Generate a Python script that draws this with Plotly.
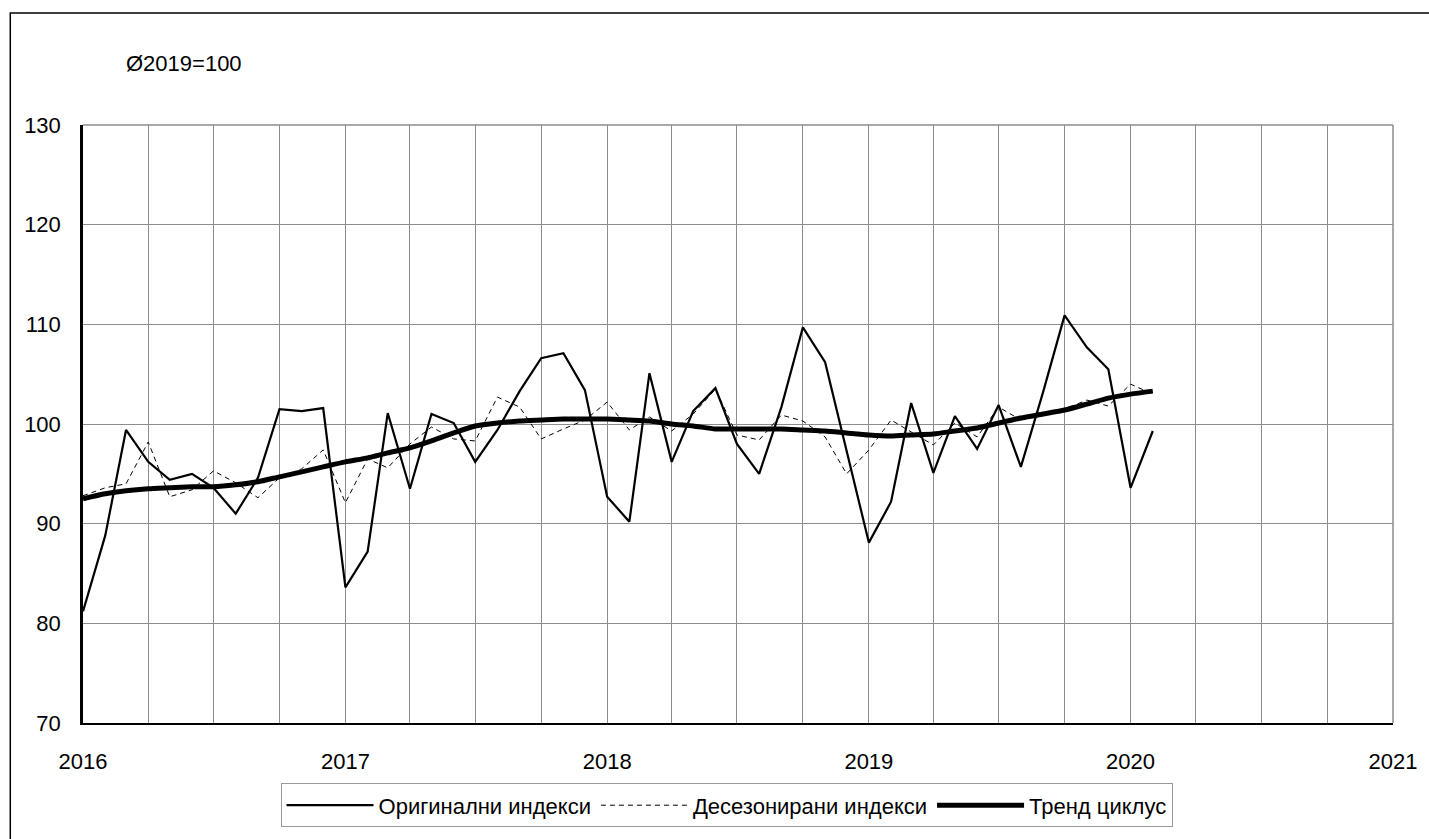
import pandas as pd
import plotly.graph_objects as go

months = pd.date_range("2016-01-01", periods=50, freq="MS")

original = [81.2, 88.8, 99.4, 96.2, 94.4, 95.0, 93.6, 91.0, 94.6, 101.5, 101.3, 101.6,
            83.6, 87.2, 101.1, 93.5, 101.0, 100.1, 96.2, 99.4, 103.3, 106.6, 107.1, 103.4,
            92.7, 90.2, 105.1, 96.2, 101.3, 103.6, 98.0, 95.0, 101.7, 109.7, 106.2, 97.4,
            88.1, 92.2, 102.1, 95.1, 100.8, 97.5, 101.9, 95.7, 103.2, 110.9, 107.7, 105.5,
            93.6, 99.3]

seasonal_adj = [92.8, 93.6, 94.0, 98.2, 92.7, 93.4, 95.3, 94.1, 92.6, 94.6, 95.5, 97.4,
                92.1, 96.5, 95.6, 98.0, 99.7, 98.5, 98.3, 102.7, 101.7, 98.5, 99.5, 100.4,
                102.2, 99.4, 100.7, 99.3, 101.0, 103.5, 98.9, 98.4, 100.9, 100.3, 98.7, 95.0,
                97.4, 100.4, 99.2, 97.9, 100.1, 98.7, 101.7, 100.4, 101.0, 101.5, 102.4, 101.8,
                104.0, 103.0]

trend = [92.5, 93.0, 93.3, 93.5, 93.6, 93.7, 93.7, 93.9, 94.2, 94.7, 95.2, 95.7,
         96.2, 96.6, 97.1, 97.6, 98.3, 99.1, 99.8, 100.1, 100.3, 100.4, 100.5, 100.5,
         100.5, 100.4, 100.3, 100.0, 99.8, 99.5, 99.5, 99.5, 99.5, 99.4, 99.3, 99.1,
         98.9, 98.8, 98.9, 99.0, 99.3, 99.6, 100.1, 100.6, 101.0, 101.4, 102.0, 102.6,
         103.0, 103.3]

names = ["Оригинални индекси", "Десезонирани индекси", "Тренд циклус"]
y_ticks = [70, 80, 90, 100, 110, 120, 130]

FONT = "Liberation Sans, Arial, sans-serif"
GRID = "#8c8c8c"

fig = go.Figure()
fig.add_trace(go.Scatter(x=months, y=original, name=names[0], mode="lines",
                         line=dict(color="black", width=2.2)))
fig.add_trace(go.Scatter(x=months, y=seasonal_adj, name=names[1], mode="lines",
                         line=dict(color="black", width=1, dash="5px,4px")))
fig.add_trace(go.Scatter(x=months, y=trend, name=names[2], mode="lines",
                         line=dict(color="black", width=5, shape="spline", smoothing=0.6)))

W, H = 1429, 839
L, R, T, B = 83, 1398, 125, 729
pw, ph = R - L, B - T

def px(x):
    return (x - L) / pw

def py(y):
    return (B - y) / ph

fig.update_layout(
    width=W, height=H,
    margin=dict(l=L, r=W - R, t=T, b=H - B, pad=0),
    paper_bgcolor="white", plot_bgcolor="white",
    font=dict(family=FONT, size=22, color="black"),
    showlegend=True,
    legend=dict(orientation="h", x=px(729), xanchor="center", y=py(790), yanchor="top",
                bordercolor="#999999", borderwidth=1, bgcolor="white",
                font=dict(size=22), itemwidth=87, traceorder="normal",
                tracegroupgap=0),
    xaxis=dict(type="date", range=["2016-01-01", "2021-01-01"],
               tick0="2016-01-01", dtick="M12", tickformat="%Y",
               showgrid=True, gridcolor=GRID, gridwidth=1,
               minor=dict(dtick="M3", showgrid=True, gridcolor=GRID, gridwidth=1),
               showline=True, linecolor="black", linewidth=2,
               ticks="", ticklabelstandoff=18, zeroline=False,
               tickfont=dict(size=22)),
    yaxis=dict(range=[70, 130], tickvals=y_ticks,
               showgrid=True, gridcolor=GRID, gridwidth=1,
               showline=True, linecolor="black", linewidth=2.5,
               ticks="", ticklabelstandoff=15, zeroline=False,
               tickfont=dict(size=22)),
    annotations=[dict(text="Ø2019=100", xref="paper", yref="paper",
                      x=px(124), y=py(63), xanchor="left", yanchor="middle",
                      showarrow=False, font=dict(size=22))],
    shapes=[
        dict(type="rect", xref="paper", yref="paper",
             x0=px(10), x1=px(1470), y0=py(12), y1=py(880),
             line=dict(color="black", width=1.5), layer="below"),
        dict(type="line", xref="paper", yref="paper",
             x0=1, x1=1, y0=0, y1=1, line=dict(color=GRID, width=1.5)),
        dict(type="line", xref="paper", yref="paper",
             x0=0, x1=1, y0=1, y1=1, line=dict(color=GRID, width=1.5)),
    ],
)

fig.write_html("out.html",
               config={"displayModeBar": False},
               post_script="document.body.style.margin='0';document.body.style.overflow='hidden';")
